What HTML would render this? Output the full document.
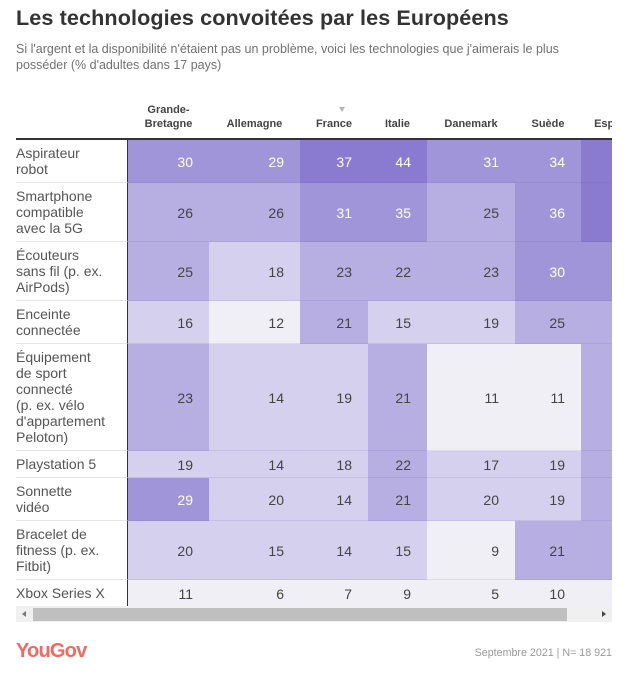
<!DOCTYPE html>
<html lang="fr">
<head>
<meta charset="utf-8">
<title>Les technologies convoitées par les Européens</title>
<style>
html,body{margin:0;padding:0;background:#fff;}
body{width:641px;height:678px;position:relative;overflow:hidden;font-family:"Liberation Sans",sans-serif;color:#444;}
#title{position:absolute;left:16px;top:5px;margin:0;font-size:21.6px;line-height:26px;font-weight:700;color:#333;white-space:nowrap;letter-spacing:.1px;}
#subtitle{position:absolute;left:16px;top:41px;margin:0;width:590px;font-size:12.5px;line-height:16px;color:#707070;}
#wrap{position:absolute;left:16px;top:100px;width:596px;height:506px;overflow:hidden;}
table{border-collapse:separate;border-spacing:0;table-layout:fixed;width:637px;}
th{height:31px;padding:0 0 7px;border-bottom:2px solid #333;font-size:11px;line-height:14px;font-weight:700;color:#444;text-align:center;vertical-align:bottom;position:relative;box-sizing:content-box;}
td{padding:6px 16px 4px 0;font-size:14px;line-height:16px;text-align:right;vertical-align:middle;border-bottom:1px solid rgba(90,70,170,.12);}
td.label{padding:5px 0;text-align:left;font-size:14px;color:#555;border-right:1px solid #333;border-bottom:1px solid #e6e6e6;}
#sort-arrow{position:absolute;left:323px;top:7px;width:0;height:0;border-left:3px solid transparent;border-right:3px solid transparent;border-top:5px solid #b5b5b5;}
#scroll-track{position:absolute;left:16px;top:606px;width:596px;height:16px;background:#f0f0f0;}
#scroll-thumb{position:absolute;left:17px;top:2px;width:534px;height:13px;background:#bfbfbf;}
#scroll-left{position:absolute;left:6px;top:5px;width:0;height:0;border-top:3.5px solid transparent;border-bottom:3.5px solid transparent;border-right:4px solid #777;}
#scroll-right{position:absolute;left:586px;top:5px;width:0;height:0;border-top:3.5px solid transparent;border-bottom:3.5px solid transparent;border-left:4px solid #444;}
#logo{position:absolute;left:16px;top:639px;font-size:20px;line-height:24px;font-weight:700;color:#f4695f;letter-spacing:-.8px;}
#source{position:absolute;right:29px;top:646px;font-size:10.7px;line-height:14px;color:#999;white-space:nowrap;}
</style>
</head>
<body>
<h1 id="title">Les technologies convoitées par les Européens</h1>
<p id="subtitle">Si l'argent et la disponibilité n'étaient pas un problème, voici les technologies que j'aimerais le plus<br>posséder (% d'adultes dans 17 pays)</p>
<div id="wrap">
<table id="heat">
<colgroup><col style="width:112px"><col style="width:81px"><col style="width:91px"><col style="width:68px"><col style="width:59px"><col style="width:88px"><col style="width:66px"><col style="width:72px"></colgroup>
<thead><tr id="head"></tr></thead>
<tbody id="body"></tbody>
</table>
</div>
<div id="scroll-track">
<div id="scroll-left"></div>
<div id="scroll-thumb"></div>
<div id="scroll-right"></div>
</div>
<div id="logo">YouGov</div>
<div id="source">Septembre 2021 | N= 18 921</div>
<script>
var countries = ["Grande-\nBretagne","Allemagne","France","Italie","Danemark","Suède","Espagne"];
var products = ["Aspirateur\nrobot","Smartphone\ncompatible\navec la 5G","Écouteurs\nsans fil (p. ex.\nAirPods)","Enceinte\nconnectée","Équipement\nde sport\nconnecté\n(p. ex. vélo\nd'appartement\nPeloton)","Playstation 5","Sonnette\nvidéo","Bracelet de\nfitness (p. ex.\nFitbit)","Xbox Series X"];
var grandeBretagne = [30,26,25,16,23,19,29,20,11];
var allemagne = [29,26,18,12,14,14,20,15,6];
var france = [37,31,23,21,19,18,14,14,7];
var italie = [44,35,22,15,21,22,21,15,9];
var danemark = [31,25,23,19,11,17,20,9,5];
var suede = [34,36,30,25,11,19,19,21,10];
var espagne = [38,39,30,25,23,22,22,22,9];
var series = [grandeBretagne,allemagne,france,italie,danemark,suede,espagne];

function cellColor(v){
  if(v>=37) return '#8a7ad0';
  if(v>=29) return '#a095d8';
  if(v>=21) return '#b7afe2';
  if(v>=13) return '#d5d0ed';
  return '#f0eff6';
}
function addLines(el,text){
  var parts = text.split('\n');
  for(var i=0;i<parts.length;i++){
    if(i>0) el.appendChild(document.createElement('br'));
    el.appendChild(document.createTextNode(parts[i]));
  }
}
var head = document.getElementById('head');
var corner = document.createElement('th');


head.appendChild(corner);
countries.forEach(function(c,j){
  var th = document.createElement('th');
  
  
  addLines(th,c);
  head.appendChild(th);
});
var arrow = document.createElement('div');
arrow.id = 'sort-arrow';


document.getElementById('wrap').appendChild(arrow);
var body = document.getElementById('body');
products.forEach(function(p,i){
  var tr = document.createElement('tr');
  
  
  var lab = document.createElement('td');
  lab.className = 'label';
  
  
  addLines(lab,p);
  tr.appendChild(lab);
  series.forEach(function(s){
    var v = s[i];
    var td = document.createElement('td');
    
    
    td.style.background = cellColor(v);
    td.style.color = v>=29 ? '#fff' : '#444';
    td.textContent = v;
    tr.appendChild(td);
  });
  body.appendChild(tr);
});
</script>
</body>
</html>
